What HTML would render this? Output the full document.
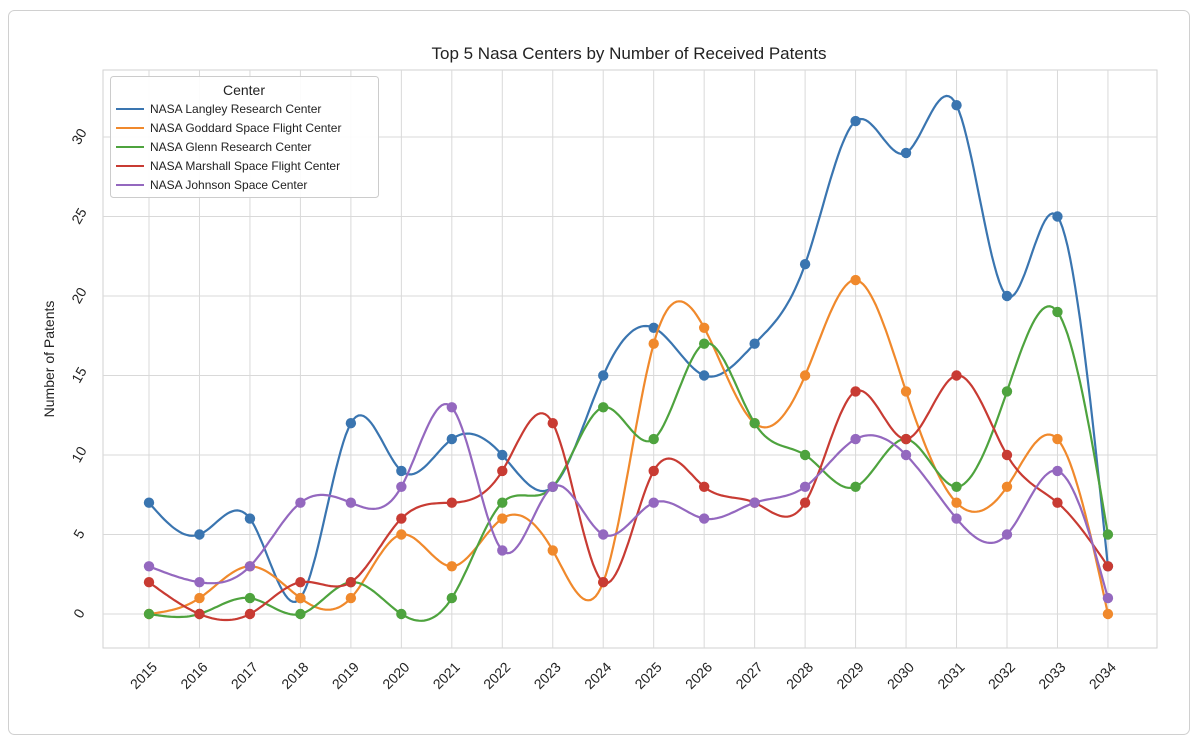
<!DOCTYPE html>
<html><head><meta charset="utf-8"><style>
html,body{margin:0;padding:0;background:#fff;}
svg{display:block;font-family:"Liberation Sans","DejaVu Sans",sans-serif;}
</style></head><body>
<svg id="s" width="1200" height="745" viewBox="0 0 1200 745" xmlns="http://www.w3.org/2000/svg"></svg>
<script>
const S=document.getElementById('s');
let h='';
h+='<rect x="8.5" y="10.5" width="1181" height="724" rx="6" fill="#fff" stroke="#d0d0d0"/>';
const L=103,R=1157,T=70,B=648;
const X=i=>149+i*50.47, Y=v=>614-15.9*v;
h+=`<rect x="${L}" y="${T}" width="${R-L}" height="${B-T}" fill="#fff" stroke="#d2d2d2"/>`;
for(let i=0;i<20;i++){h+=`<line x1="${X(i)}" y1="${T}" x2="${X(i)}" y2="${B}" stroke="#d9d9d9" stroke-width="1"/>`;
 h+=`<text x="0" y="0" transform="translate(${X(i)+9},${B+20}) rotate(-45)" text-anchor="end" font-size="14" fill="#222">${2015+i}</text>`;}
for(let v=0;v<=30;v+=5){h+=`<line x1="${L}" y1="${Y(v)}" x2="${R}" y2="${Y(v)}" stroke="#d9d9d9"/>`;
 h+=`<text transform="translate(80,${Y(v)}) rotate(-60)" text-anchor="middle" dominant-baseline="middle" font-size="14" fill="#222">${v}</text>`;}
h+=`<text x="629" y="59" text-anchor="middle" font-size="17" fill="#222">Top 5 Nasa Centers by Number of Received Patents</text>`;
h+=`<text transform="translate(54,359) rotate(-90)" text-anchor="middle" font-size="14" fill="#222">Number of Patents</text>`;
const D=[
["NASA Langley Research Center","#3a75b0",[7,5,6,1,12,9,11,10,8,15,18,15,17,22,31,29,32,20,25,3]],
["NASA Goddard Space Flight Center","#f0892c",[0,1,3,1,1,5,3,6,4,2,17,18,12,15,21,14,7,8,11,0]],
["NASA Glenn Research Center","#4ea33e",[0,0,1,0,2,0,1,7,8,13,11,17,12,10,8,11,8,14,19,5]],
["NASA Marshall Space Flight Center","#c83b33",[2,0,0,2,2,6,7,9,12,2,9,8,7,7,14,11,15,10,7,3]],
["NASA Johnson Space Center","#9468bf",[3,2,3,7,7,8,13,4,8,5,7,6,7,8,11,10,6,5,9,1]]];
function spline(y){const n=y.length,m=new Array(n).fill(0);
 const cp=new Array(n).fill(0),dp=new Array(n).fill(0);
 for(let i=1;i<n-1;i++){const r=6*(y[i+1]-2*y[i]+y[i-1]);const den=4-cp[i-1];cp[i]=1/den;dp[i]=(r-dp[i-1])/den;}
 for(let i=n-2;i>0;i--)m[i]=dp[i]-cp[i]*m[i+1];
 const pts=[];for(let i=0;i<n-1;i++)for(let k=0;k<20;k++){const t=k/20;
  const v=(1-t)*y[i]+t*y[i+1]+((1-t)**3-(1-t))*m[i]/6+(t**3-t)*m[i+1]/6;pts.push([X(i+t),Y(v)]);}
 pts.push([X(n-1),Y(y[n-1])]);return pts;}
for(const [n,c,y] of D){const p=spline(y);
 h+=`<polyline fill="none" stroke="${c}" stroke-width="2.2" points="${p.map(q=>q[0].toFixed(1)+','+q[1].toFixed(1)).join(' ')}"/>`;
 y.forEach((v,i)=>h+=`<circle cx="${X(i)}" cy="${Y(v)}" r="5.2" fill="${c}"/>`);}
h+=`<rect x="110.5" y="76.5" width="268" height="121" rx="3" fill="#fff" fill-opacity="0.9" stroke="#ccc"/>`;
h+=`<text x="244" y="95" text-anchor="middle" font-size="14" fill="#222">Center</text>`;
D.forEach((d,i)=>{const yy=109+i*19;h+=`<line x1="116" y1="${yy}" x2="144" y2="${yy}" stroke="${d[1]}" stroke-width="2"/><text x="150" y="${yy+4}" font-size="12" fill="#222">${d[0]}</text>`;});
S.innerHTML=h;
</script>
</body></html>
